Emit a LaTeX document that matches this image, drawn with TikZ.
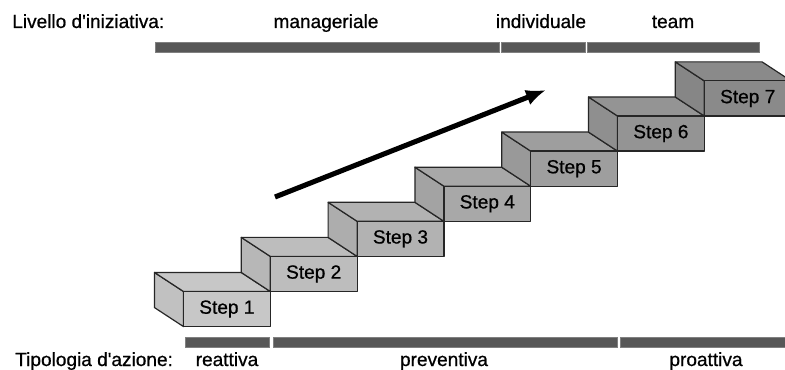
\documentclass[tikz,border=0pt]{standalone}
\usepackage{fontspec}
\setmainfont{Liberation Sans}
\newfontfamily\lblfont{Liberation Sans}[FakeBold=0.7]
\usetikzlibrary{arrows.meta,calc}
\tikzset{
  lbl/.style={font=\lblfont\fontsize{14.3}{16}\selectfont, inner sep=0pt},
  bar/.style={fill=black!66, draw=black!50, line width=0.3pt},
  face/.style={draw=black!85, line width=0.9pt, line join=round},
}
\begin{document}
\begin{tikzpicture}[x=0.75pt,y=-0.75pt]
\clip (0,0) rectangle (785,370);
\fill[white] (0,0) rectangle (785,370);
\node[lbl, anchor=base west] (lvl) at (12,28) {Livello d'iniziativa:};
\node[lbl, anchor=base] (man) at (326,28) {manageriale};
\node[lbl, anchor=base] (ind) at (541,28) {individuale};
\node[lbl, anchor=base] (team) at (673,28) {team};
\fill[bar] (155,42) rectangle (499,52);
\fill[bar] (501,42) rectangle (585,52);
\fill[bar] (587,42) rectangle (759,52);
\foreach \i [evaluate=\i as \fx using 183.5+86.8*(\i-1),
             evaluate=\i as \fy using 291.5-35.1*(\i-1),
             evaluate=\i as \tone using int(22+4*(\i-1))] in {1,...,7} {
  \filldraw[face, fill=black!\tone!white!97!black] (\fx-29,\fy-19) -- (\fx,\fy) -- (\fx,\fy+35.1) -- (\fx-29,\fy+16.1) -- cycle;
  \filldraw[face, fill=black!\tone] (\fx-29,\fy-19) -- (\fx+57.8,\fy-19) -- (\fx+86.8,\fy) -- (\fx,\fy) -- cycle;
  \filldraw[face, fill=black!\tone] (\fx,\fy) rectangle (\fx+86.8,\fy+35.1);
  \node[lbl] (s\i) at (\fx+43.4,\fy+17.55) {Step \i};
}
\coordinate (tail) at (275,197);
\coordinate (head) at (546,90);
\draw[line width=3.8pt, -{Latex[length=15pt,width=12pt]}] (tail) -- (head);
\fill[bar] (185,337) rectangle (269,347);
\fill[bar] (273,337) rectangle (617,347);
\fill[bar] (620,337) rectangle (790,347);
\node[lbl, anchor=base west] (tip) at (15,366) {Tipologia d'azione:};
\node[lbl, anchor=base] (rea) at (227,366) {reattiva};
\node[lbl, anchor=base] (pre) at (444,366) {preventiva};
\node[lbl, anchor=base] (pro) at (706,366) {proattiva};
\end{tikzpicture}
\end{document}
